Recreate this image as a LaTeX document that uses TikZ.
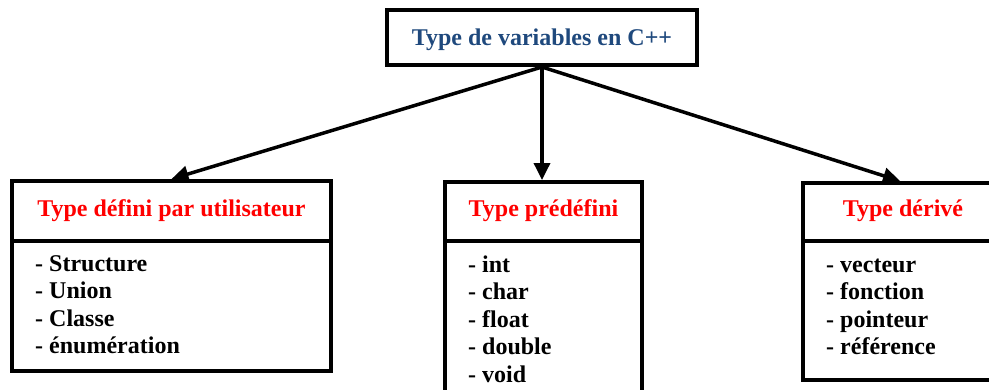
\documentclass[tikz,border=0pt]{standalone}
\usepackage{fontspec}
\setmainfont{Liberation Serif}
\usetikzlibrary{arrows.meta}
\definecolor{titleblue}{RGB}{31,73,125}
\begin{document}
\begin{tikzpicture}[x=1pt,y=1pt,
  box/.style={draw,line width=4pt,rectangle,inner sep=0pt},
  title/.style={font=\bfseries\fontsize{24}{27.5}\selectfont,text=titleblue,anchor=base,inner sep=0pt},
  head/.style={font=\bfseries\fontsize{24}{27.5}\selectfont,text=red,anchor=base,inner sep=0pt},
  % multi-line lists: the base anchor sits on the last line
  items/.style={font=\bfseries\fontsize{24}{27.5}\selectfont,align=left,anchor=base west,inner sep=0pt},
  link/.style={line width=3.5pt,-{Triangle[length=17pt,width=16pt]}}]
\useasboundingbox (0,0) rectangle (989,-389);
\clip (0,0) rectangle (989,-389);

% root box
\node[box,minimum width=310,minimum height=55] (root) at (542,-37.5) {};
\node[title] (roottext) at (542,-45) {Type de variables en C++};

% user-defined types
\node[box,minimum width=319,minimum height=60] (userhead) at (171.5,-211) {};
\node[box,minimum width=319,minimum height=130] (userbody) at (171.5,-306) {};
\node[head] (userheadtext) at (171.5,-216) {Type défini par utilisateur};
\node[items] (useritems) at (35,-353.5) {- Structure\\- Union\\- Classe\\- énumération};

% predefined types
\node[box,minimum width=197,minimum height=59] (predhead) at (543.5,-211.5) {};
\node[box,minimum width=197,minimum height=179] (predbody) at (543.5,-330.5) {};
\node[head] (predheadtext) at (543.5,-216) {Type prédéfini};
\node[items] (preditems) at (468,-382) {- int\\- char\\- float\\- double\\- void};

% derived types
\node[box,minimum width=202,minimum height=58] (derhead) at (904,-212) {};
\node[box,minimum width=202,minimum height=139] (derbody) at (904,-310.5) {};
\node[head] (derheadtext) at (903,-216) {Type dérivé};
\node[items] (deritems) at (826,-354.5) {- vecteur\\- fonction\\- pointeur\\- référence};

% connectors
\draw[link] (root.south) -- (userhead.north);
\draw[link] (root.south) -- (root.south |- predhead.north);
\draw[link] (root.south) -- ([xshift=-4pt]derhead.north);
\end{tikzpicture}
\end{document}
